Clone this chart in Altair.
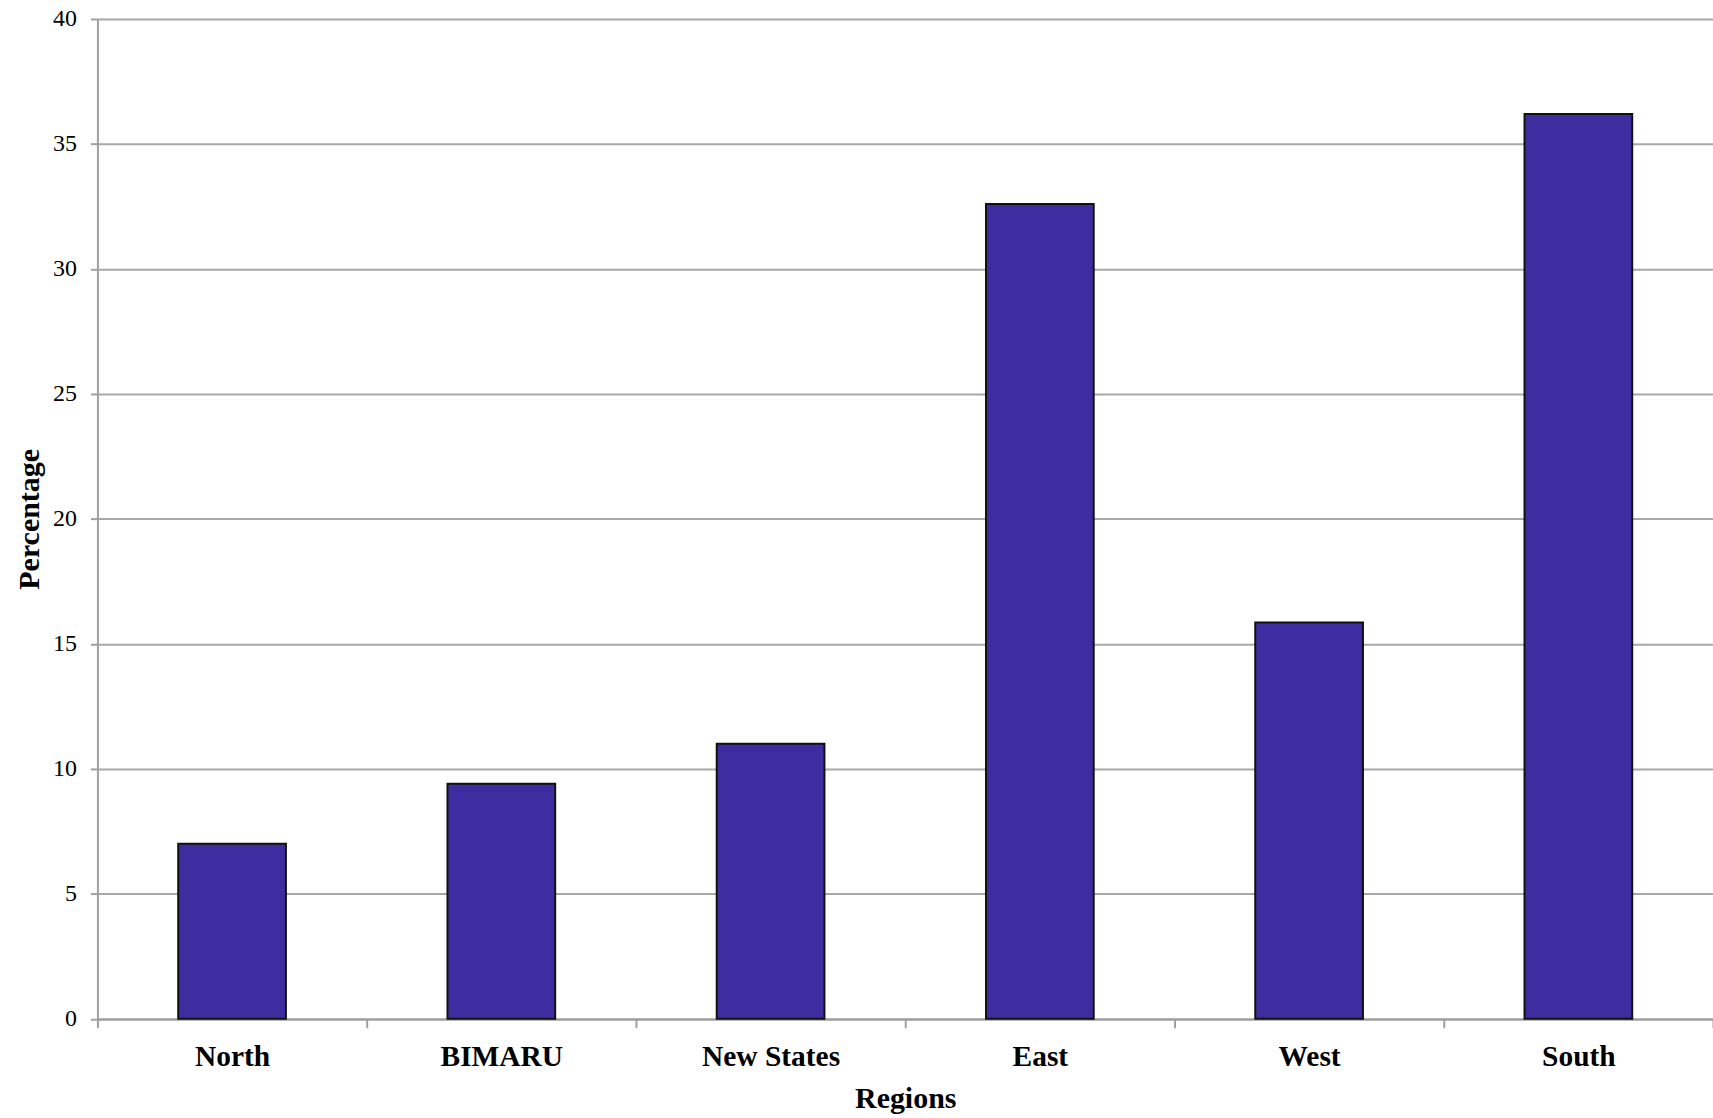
import altair as alt
import pandas as pd

regions = ["North", "BIMARU", "New States", "East", "West", "South"]
percentages = [7.0, 9.4, 11.0, 32.6, 15.85, 36.2]

df = pd.DataFrame({"Regions": regions, "Percentage": percentages})

FONT = "Liberation Serif"

chart = alt.Chart(df).mark_bar(
    color="#3d2da1", stroke="#111111", strokeWidth=2, width={"band": 0.4}
).encode(
    x=alt.X(
        "Regions:N",
        sort=regions,
        scale=alt.Scale(paddingInner=0, paddingOuter=0),
        axis=alt.Axis(
            title="Regions",
            labelAngle=0,
            tickBand="extent",
            labelFont=FONT, labelFontSize=29.5, labelFontWeight="bold", labelColor="#000000",
            labelPadding=15,
            titleFont=FONT, titleFontSize=30, titleFontWeight="bold", titleColor="#000000",
            titlePadding=13,
            tickSize=9, tickColor="#a0a0a0", tickWidth=2,
            domainColor="#a0a0a0", domainWidth=2,
            grid=False,
        ),
    ),
    y=alt.Y(
        "Percentage:Q",
        scale=alt.Scale(domain=[0, 40], nice=False),
        axis=alt.Axis(
            title="Percentage",
            values=list(range(0, 41, 5)),
            labelFont=FONT, labelFontSize=24, labelColor="#000000",
            labelPadding=14,
            titleFont=FONT, titleFontSize=30, titleFontWeight="bold", titleColor="#000000",
            titlePadding=8,
            tickSize=7, tickColor="#a0a0a0", tickWidth=2,
            domainColor="#a0a0a0", domainWidth=2,
            grid=True, gridColor="#a8a8a8", gridWidth=2,
        ),
    ),
).properties(
    width=1620,
    height=1002.5,
    autosize=alt.AutoSizeParams(type="none"),
    padding={"left": 97.7, "top": 17.5, "right": 0, "bottom": 98},
).configure_view(stroke=None)

chart.save("out.html", embed_options={"renderer": "svg", "actions": False})
